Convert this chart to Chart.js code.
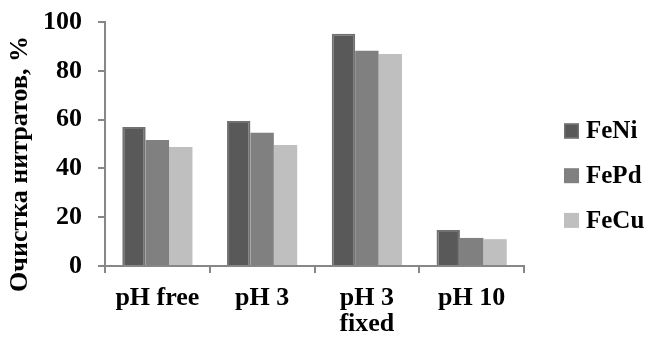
<!DOCTYPE html>
<html lang="ru">
<head>
    <meta charset="UTF-8">
    <title>Очистка нитратов</title>
    <script src="https://cdn.jsdelivr.net/npm/chart.js"></script>
    <style>
        body {
            margin: 0;
            background: #ffffff;
        }

        .chart-box {
            width: 648px;
            height: 338px;
        }
    </style>
</head>
<body>
    <div class="chart-box">
        <canvas id="barChart"></canvas>
    </div>

    <script>
        // conditions on the x axis (multi-line label for "pH 3 fixed")
        const categories = ['pH free', 'pH 3', ['pH 3', 'fixed'], 'pH 10'];

        // nitrate removal, %
        const feNi = [57.0, 59.4, 95.2, 14.8];
        const fePd = [51.6, 54.6, 88.2, 11.5];
        const feCu = [48.8, 49.6, 86.9, 11.0];

        const yTicks = [0, 20, 40, 60, 80, 100];
        const yTitle = 'Очистка нитратов, %';

        const family = "'Liberation Serif', 'Times New Roman', serif";
        const font = { family: family, weight: 'bold', size: 26 };
        const axisGrey = '#878787';

        // y title centred on the whole canvas height, legend column on the right
        const sideDecor = {
            id: 'sideDecor',
            afterDraw(chart) {
                const c = chart.ctx;
                c.save();

                c.font = "bold 26px " + family;
                c.fillStyle = '#000000';
                c.textAlign = 'center';
                c.textBaseline = 'middle';
                c.translate(20, 164);
                c.rotate(-Math.PI / 2);
                c.fillText(yTitle, 0, 0);
                c.setTransform(1, 0, 0, 1, 0, 0);

                const left = 564, box = 15, firstY = 131, step = 44.7;
                c.font = "bold 25px " + family;
                c.textAlign = 'left';
                chart.data.datasets.forEach((ds, i) => {
                    const cy = firstY + i * step;
                    c.fillStyle = ds.backgroundColor;
                    c.fillRect(left, cy - box / 2, box, box);
                    if (ds.borderWidth) {
                        c.strokeStyle = ds.borderColor;
                        c.lineWidth = 1.5;
                        c.strokeRect(left + 0.75, cy - box / 2 + 0.75, box - 1.5, box - 1.5);
                    }
                    c.fillStyle = '#000000';
                    c.fillText(ds.label, left + box + 7, cy + 1);
                });
                c.restore();
            }
        };

        const ctx = document.getElementById('barChart');
        new Chart(ctx, {
            type: 'bar',
            data: {
                labels: categories,
                datasets: [
                    { label: 'FeNi', data: feNi, backgroundColor: '#595959', borderColor: '#717171', borderWidth: 2 },
                    { label: 'FePd', data: fePd, backgroundColor: '#808080', borderWidth: 0 },
                    { label: 'FeCu', data: feCu, backgroundColor: '#bfbfbf', borderWidth: 0 }
                ]
            },
            plugins: [sideDecor],
            options: {
                responsive: true,
                maintainAspectRatio: false,
                animation: false,
                layout: {
                    padding: { left: 6, right: 124, top: 22, bottom: 0 }
                },
                datasets: {
                    bar: { categoryPercentage: 0.67, barPercentage: 1.0 }
                },
                plugins: {
                    tooltip: { enabled: false },
                    legend: { display: false }
                },
                scales: {
                    x: {
                        afterFit: axis => {
                            axis.height = 72;
                        },
                        grid: {
                            display: true,
                            drawOnChartArea: false,
                            drawTicks: true,
                            tickLength: 7,
                            color: axisGrey,
                            lineWidth: 2
                        },
                        border: { color: axisGrey, width: 2 },
                        ticks: {
                            font: Object.assign({}, font, { lineHeight: 1.0 }),
                            color: '#000000',
                            padding: 12,
                            maxRotation: 0
                        }
                    },
                    y: {
                        min: 0,
                        max: 100,
                        afterBuildTicks: axis => {
                            axis.ticks = yTicks.map(v => ({ value: v }));
                        },
                        afterFit: axis => {
                            axis.width = 99;
                            axis.paddingTop = 0;
                            axis.paddingBottom = 0;
                        },
                        grid: {
                            display: true,
                            drawOnChartArea: false,
                            drawTicks: true,
                            tickLength: 7,
                            color: axisGrey,
                            lineWidth: 2
                        },
                        border: { color: axisGrey, width: 2 },
                        ticks: {
                            font: font,
                            color: '#000000',
                            padding: 16
                        }
                    }
                }
            }
        });
    </script>
</body>
</html>
